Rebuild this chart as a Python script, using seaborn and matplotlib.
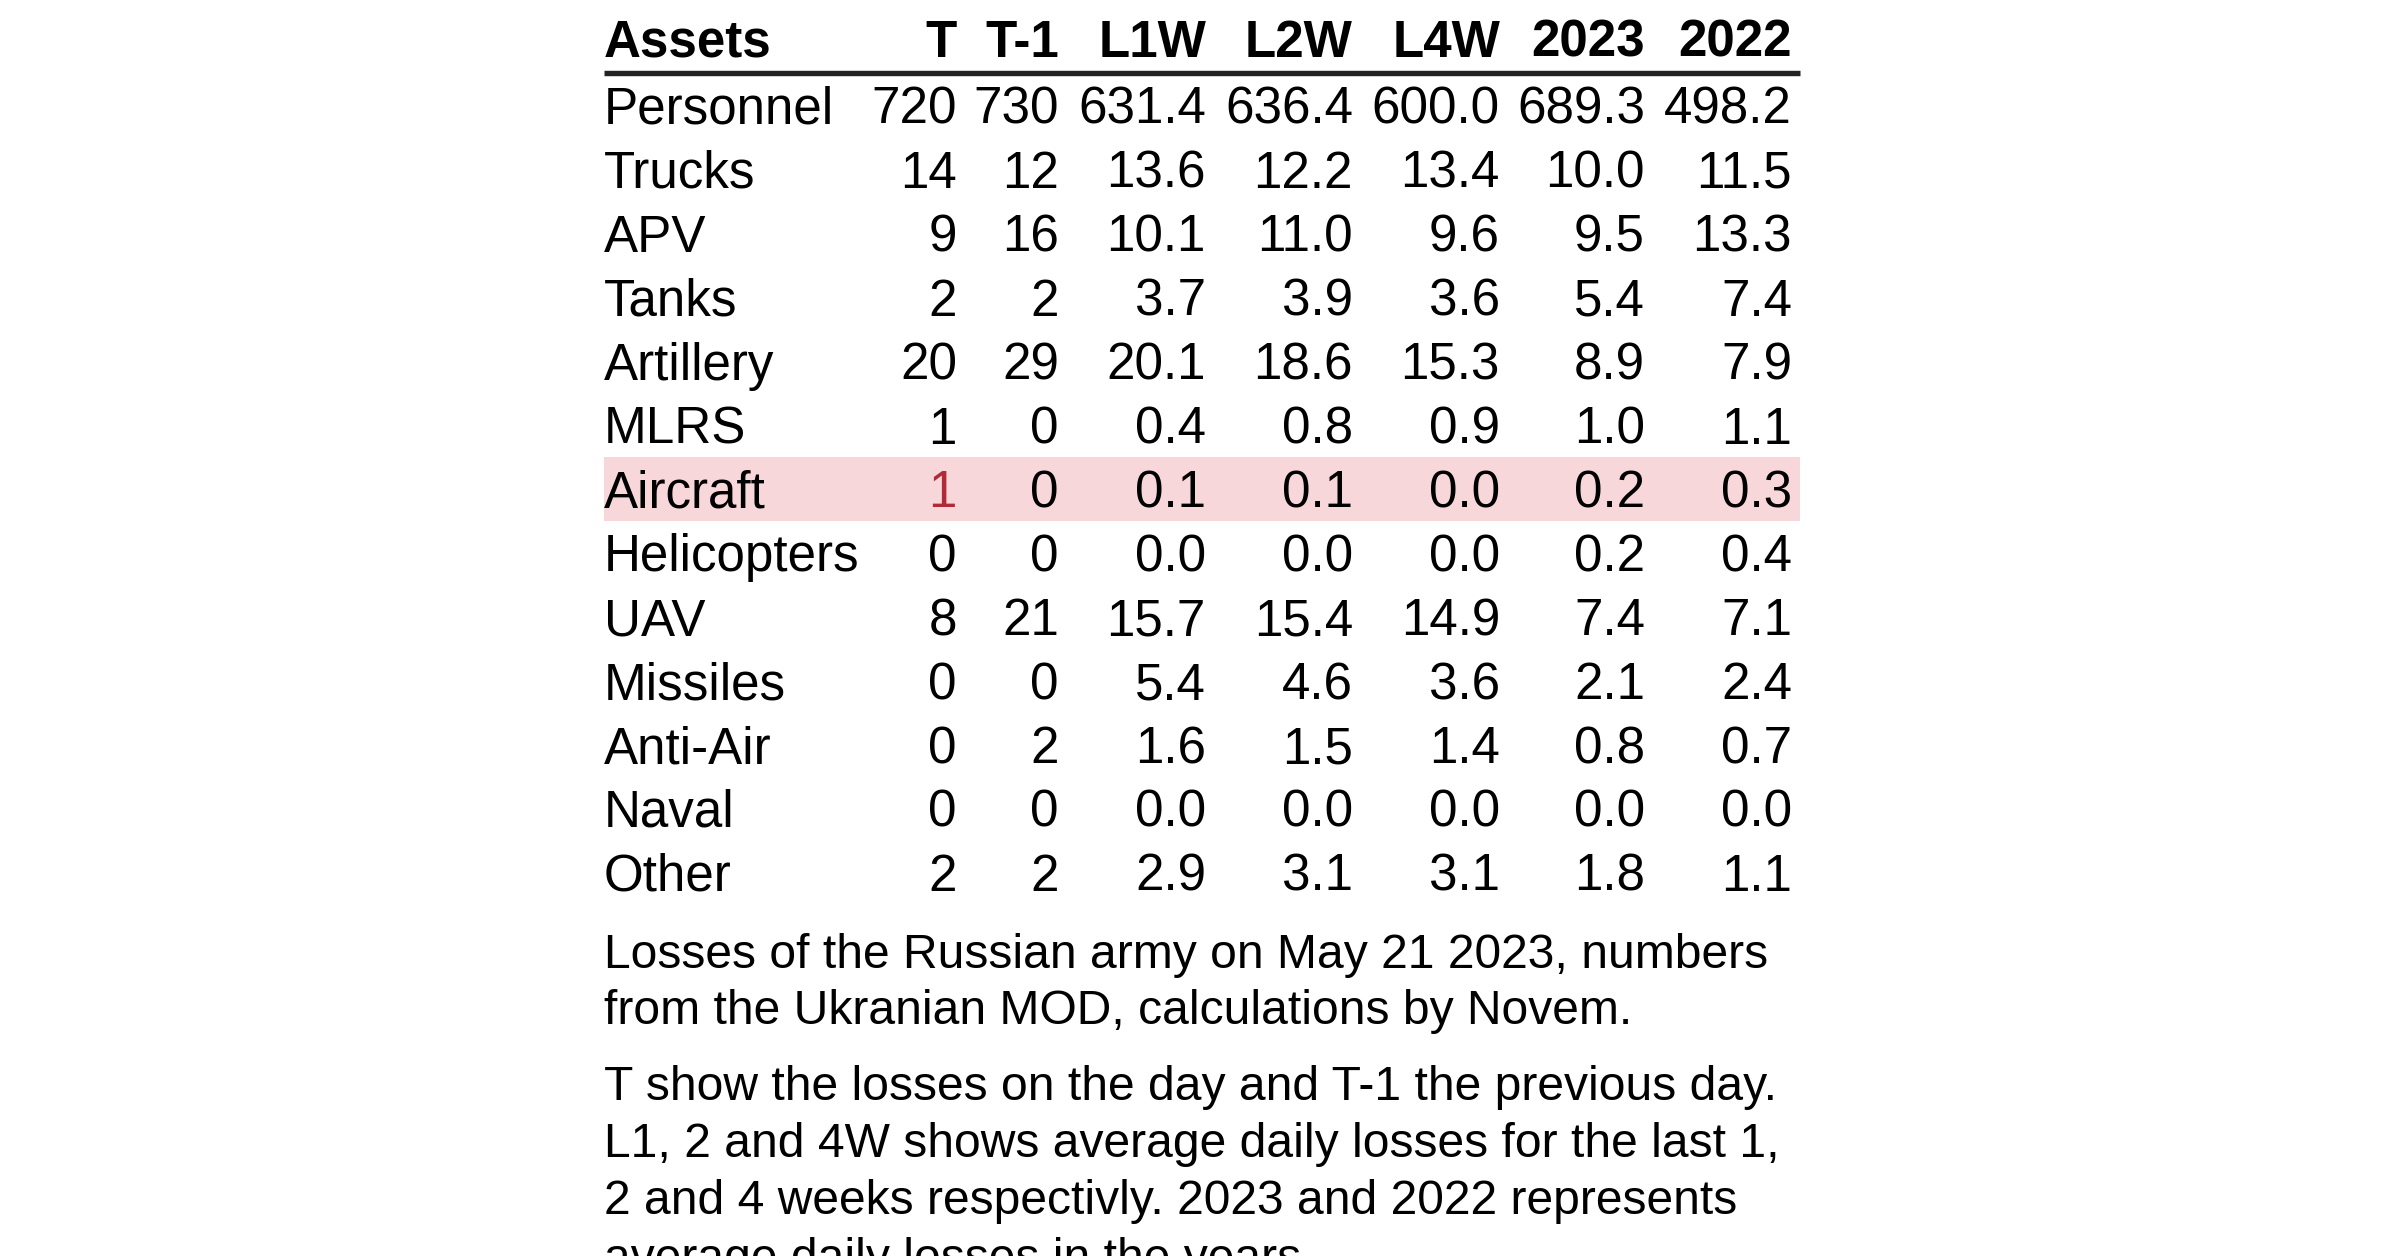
import pandas as pd
import numpy as np
import matplotlib.pyplot as plt
import seaborn as sns

assets = ['Personnel', 'Trucks', 'APV', 'Tanks', 'Artillery', 'MLRS', 'Aircraft',
          'Helicopters', 'UAV', 'Missiles', 'Anti-Air', 'Naval', 'Other']
t = [720, 14, 9, 2, 20, 1, 1, 0, 8, 0, 0, 0, 2]
t1 = [730, 12, 16, 2, 29, 0, 0, 0, 21, 0, 2, 0, 2]
l1w = [631.4, 13.6, 10.1, 3.7, 20.1, 0.4, 0.1, 0.0, 15.7, 5.4, 1.6, 0.0, 2.9]
l2w = [636.4, 12.2, 11.0, 3.9, 18.6, 0.8, 0.1, 0.0, 15.4, 4.6, 1.5, 0.0, 3.1]
l4w = [600.0, 13.4, 9.6, 3.6, 15.3, 0.9, 0.0, 0.0, 14.9, 3.6, 1.4, 0.0, 3.1]
y2023 = [689.3, 10.0, 9.5, 5.4, 8.9, 1.0, 0.2, 0.2, 7.4, 2.1, 0.8, 0.0, 1.8]
y2022 = [498.2, 11.5, 13.3, 7.4, 7.9, 1.1, 0.3, 0.4, 7.1, 2.4, 0.7, 0.0, 1.1]
columns = ['T', 'T-1', 'L1W', 'L2W', 'L4W', '2023', '2022']
highlight_row = 'Aircraft'
highlight_col = 'T'

note1 = ["Losses of the Russian army on May 21 2023, numbers",
         "from the Ukranian MOD, calculations by Novem."]
note2 = ["T show the losses on the day and T-1 the previous day.",
         "L1, 2 and 4W shows average daily losses for the last 1,",
         "2 and 4 weeks respectivly. 2023 and 2022 represents",
         "average daily losses in the years."]

df = pd.DataFrame({'Assets': assets, 'T': t, 'T-1': t1, 'L1W': l1w, 'L2W': l2w,
                   'L4W': l4w, '2023': y2023, '2022': y2022})

sns.set_theme(style='white')
plt.rcParams['font.family'] = ['Liberation Sans', 'DejaVu Sans']
plt.rcParams['text.color'] = 'black'

fig = plt.figure(figsize=(12, 6.28), dpi=200)
ax = fig.add_axes([0, 0, 1, 1])
ax.set_xlim(0, 2400)
ax.set_ylim(1256, 0)
ax.axis('off')

# layout in pixel units
left = 604
right = 1800
col_right = [957, 1059, 1206, 1353, 1500, 1645, 1792]
head_base = 56.7
row0_base = 124
row_h = 63.9
fs_tab = 18.43
fs_note = 17.28

ax.text(left, head_base, 'Assets', ha='left', va='baseline', fontsize=fs_tab,
        fontweight='bold', color='black')
for c, x in zip(columns, col_right):
    ax.text(x, head_base, c, ha='right', va='baseline', fontsize=fs_tab,
            fontweight='bold', color='black')
ax.plot([left, right], [73.3, 73.3], color='#222222', lw=1.95, solid_capstyle='butt')

for i, row in df.iterrows():
    base = row0_base + i * row_h
    if row['Assets'] == highlight_row:
        ctr = base - 18
        ax.axhspan(ctr - row_h / 2, ctr + row_h / 2, xmin=left / 2400, xmax=right / 2400,
                   color='#F8D7DA', lw=0, zorder=0)
    ax.text(left, base, row['Assets'], ha='left', va='baseline', fontsize=fs_tab, color='black')
    for c, x in zip(columns, col_right):
        v = row[c]
        s = f'{int(v)}' if c in ('T', 'T-1') else f'{v:.1f}'
        color = '#B02A37' if (row['Assets'] == highlight_row and c == highlight_col) else 'black'
        ax.text(x, base, s, ha='right', va='baseline', fontsize=fs_tab, color=color)

for j, line in enumerate(note1):
    ax.text(left, 968 + j * 56, line, ha='left', va='baseline', fontsize=fs_note, color='black')
for j, line in enumerate(note2):
    ax.text(left, 1099.5 + j * 57.5, line, ha='left', va='baseline', fontsize=fs_note,
            color='black')

fig.savefig('out.png', dpi=200, facecolor='white')
